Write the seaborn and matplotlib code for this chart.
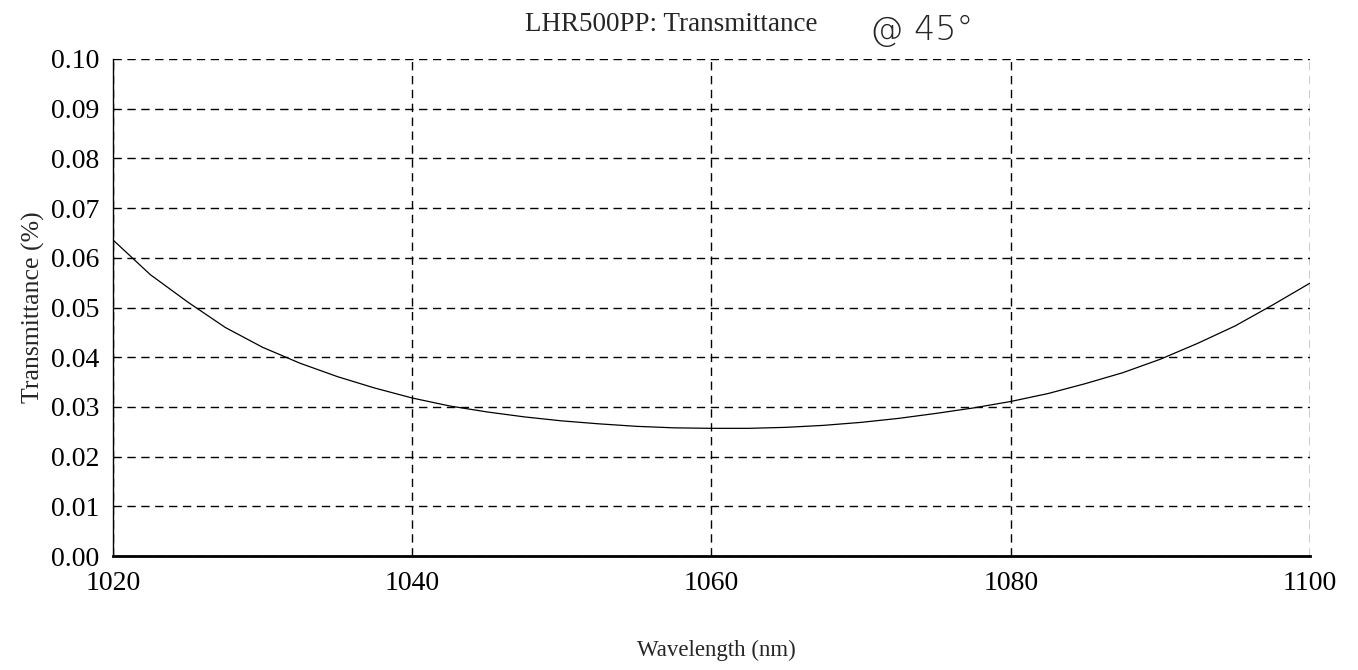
import numpy as np
import pandas as pd
import matplotlib
matplotlib.use("Agg")
import matplotlib.pyplot as plt
import seaborn as sns

# Measured transmittance of the LHR500PP coating at 45 degrees
wavelength_nm = [1020, 1022.5, 1025, 1027.5, 1030, 1032.5, 1035, 1037.5, 1040,
                 1042.5, 1045, 1047.5, 1050, 1052.5, 1055, 1057.5, 1060,
                 1062.5, 1065, 1067.5, 1070, 1072.5, 1075, 1077.5, 1080,
                 1082.5, 1085, 1087.5, 1090, 1092.5, 1095, 1097.5, 1100]
transmittance_pct = [0.0636, 0.0566, 0.0511, 0.0460, 0.0420, 0.0388, 0.0361,
                     0.0338, 0.0318, 0.0302, 0.0290, 0.0280, 0.0272, 0.0266,
                     0.0261, 0.0258, 0.0257, 0.0257, 0.0259, 0.0263, 0.0269,
                     0.0277, 0.0287, 0.0298, 0.0311, 0.0327, 0.0347, 0.0369,
                     0.0396, 0.0428, 0.0463, 0.0505, 0.0549]

x_ticks = [1020, 1040, 1060, 1080, 1100]
y_ticks = [0.00, 0.01, 0.02, 0.03, 0.04, 0.05, 0.06, 0.07, 0.08, 0.09, 0.10]

sns.set_style("white")
plt.rcParams["font.family"] = ["Liberation Serif", "DejaVu Serif"]

df = pd.DataFrame({"Wavelength (nm)": wavelength_nm,
                   "Transmittance (%)": transmittance_pct})

fig = plt.figure(figsize=(13.58, 6.70), dpi=100)
ax = fig.add_axes([0.0832, 0.170, 0.8814, 0.742])

sns.lineplot(data=df, x="Wavelength (nm)", y="Transmittance (%)",
             color="black", linewidth=0.9, ax=ax)

ax.set_xlim(1020, 1100)
ax.set_ylim(0.0, 0.10)
ax.set_xticks(x_ticks)
ax.set_yticks(y_ticks)
ax.set_yticklabels([f"{v:.2f}" for v in y_ticks])

# dashed grid, solid left/bottom axes
ax.grid(True, color="black", linestyle=(0, (6, 4)), linewidth=1.0)
for side in ("top", "right"):
    ax.spines[side].set_visible(False)
ax.spines["left"].set_linewidth(1.0)
ax.spines["bottom"].set_linewidth(2.0)
ax.spines["left"].set_color("black")
ax.spines["bottom"].set_color("black")

ax.tick_params(axis="y", direction="inout", length=18, width=1.3,
               labelsize=20, pad=1, colors="black")
ax.tick_params(axis="x", direction="inout", length=8, width=0.8,
               labelsize=20, pad=7, colors="black")

ax.set_xlabel("Wavelength (nm)", fontsize=16.5, labelpad=28)
ax.set_ylabel("Transmittance (%)", fontsize=18.5, labelpad=4)
ax.xaxis.set_label_coords(0.504, -0.168)

fig.text(0.494, 0.964, "LHR500PP: Transmittance", fontsize=19.5,
         ha="center", va="center")
fig.text(0.641, 0.955, "@ 45°", fontsize=24, ha="left", va="center",
         family=["DejaVu Sans"], fontweight="light")

fig.savefig("out.png", dpi=100)
